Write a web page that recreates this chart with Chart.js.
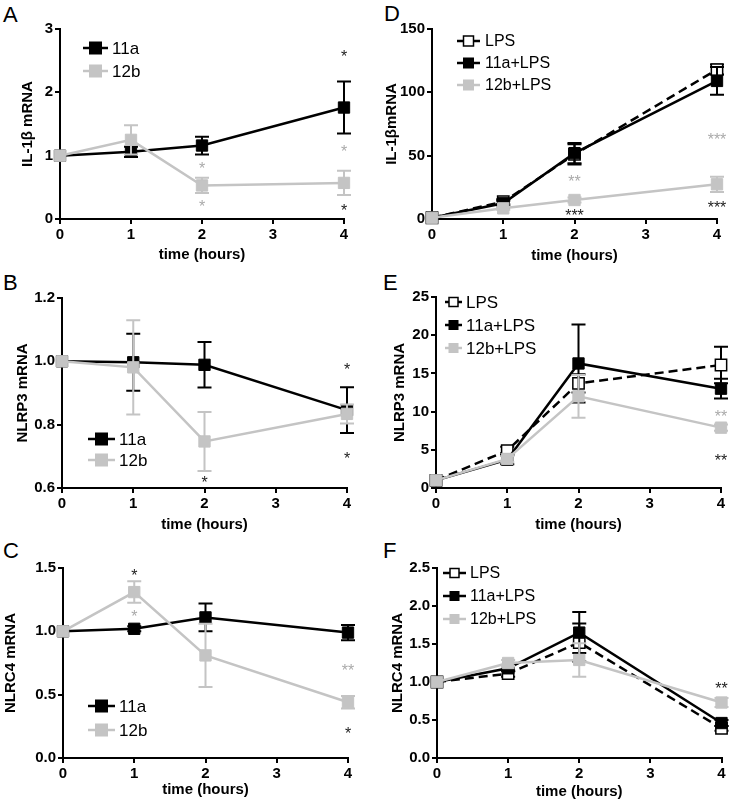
<!DOCTYPE html>
<html>
<head>
<meta charset="utf-8">
<script src="https://cdn.jsdelivr.net/npm/chart.js@4.4.1/dist/chart.umd.min.js"></script>
<style>
html, body { margin: 0; padding: 0; background: #fff; }
body { width: 731px; height: 804px; position: relative; overflow: hidden; font-family: Arial, "Liberation Sans", sans-serif; }
canvas { position: absolute; }
.letter { position: absolute; font-size: 22px; line-height: 22px; color: #000; }
</style>
</head>
<body>
<div class="letter" style="left:3px;top:4px">A</div>
<div class="letter" style="left:3px;top:272px">B</div>
<div class="letter" style="left:3px;top:540px">C</div>
<div class="letter" style="left:384px;top:3px">D</div>
<div class="letter" style="left:383px;top:272px">E</div>
<div class="letter" style="left:383px;top:540px">F</div>

<canvas id="cA" width="365" height="268" style="left:0;top:0"></canvas>
<canvas id="cB" width="365" height="270" style="left:0;top:268px"></canvas>
<canvas id="cC" width="365" height="266" style="left:0;top:538px"></canvas>
<canvas id="cD" width="366" height="268" style="left:365px;top:0"></canvas>
<canvas id="cE" width="366" height="270" style="left:365px;top:268px"></canvas>
<canvas id="cF" width="366" height="266" style="left:365px;top:538px"></canvas>

<script>
// time points (hours)
const hours = [0, 1, 2, 4];

// A: IL-1b mRNA
const il1b_11a = [1.0, 1.06, 1.16, 1.76];
const il1b_11a_err = [0, 0.08, 0.14, 0.41];
const il1b_12b = [1.0, 1.25, 0.53, 0.57];
const il1b_12b_err = [0, 0.23, 0.12, 0.19];

// B: NLRP3 mRNA
const nlrp3_11a = [1.0, 0.997, 0.989, 0.846];
const nlrp3_11a_err = [0, 0.09, 0.072, 0.072];
const nlrp3_12b = [1.0, 0.981, 0.747, 0.834];
const nlrp3_12b_err = [0, 0.149, 0.093, 0.03];

// C: NLRC4 mRNA
const nlrc4_11a = [1.0, 1.02, 1.11, 0.99];
const nlrc4_11a_err = [0, 0.02, 0.11, 0.06];
const nlrc4_12b = [1.0, 1.31, 0.81, 0.44];
const nlrc4_12b_err = [0, 0.085, 0.25, 0.05];

// D: IL-1b mRNA with LPS
const il1b_lps = [1, 13.6, 51, 118];
const il1b_lps_err = [0, 2, 8, 4];
const il1b_11aLps = [1, 12.4, 52, 109];
const il1b_11aLps_err = [0, 2, 8, 11];
const il1b_12bLps = [1, 8.4, 15, 27.4];
const il1b_12bLps_err = [0, 1, 2, 6];

// E: NLRP3 mRNA with LPS
const nlrp3_lps = [1, 4.9, 13.7, 16.1];
const nlrp3_lps_err = [0, 0.5, 1.2, 2.4];
const nlrp3_11aLps = [1, 3.7, 16.3, 13.0];
const nlrp3_11aLps_err = [0, 0.6, 5.1, 1.3];
const nlrp3_12bLps = [1, 3.8, 12.0, 7.9];
const nlrp3_12bLps_err = [0, 0.4, 2.8, 0.4];

// F: NLRC4 mRNA with LPS
const nlrc4_lps = [1, 1.11, 1.52, 0.39];
const nlrc4_lps_err = [0, 0.04, 0.25, 0.03];
const nlrc4_11aLps = [1, 1.18, 1.65, 0.46];
const nlrc4_11aLps_err = [0, 0.04, 0.27, 0.04];
const nlrc4_12bLps = [1, 1.25, 1.29, 0.73];
const nlrc4_12bLps_err = [0, 0.04, 0.22, 0.06];

// significance marks: [hour, value, text, black?]
const starsA = [[4, 2.62, '*', 1], [4, 1.13, '*', 0], [2, 0.86, '*', 0], [2, 0.26, '*', 0], [4, 0.19, '*', 1]];
const starsB = [[4, 0.985, '*', 1], [4, 0.704, '*', 1], [2, 0.63, '*', 1]];
const starsC = [[1, 1.47, '*', 1], [1, 1.15, '*', 0], [4, 0.72, '**', 0], [4, 0.22, '*', 1]];
const starsD = [[4, 65.5, '***', 0], [2, 32.6, '**', 0], [2, 6, '***', 1], [4, 12.4, '***', 1]];
const starsE = [[4, 9.9, '**', 0], [4, 4.1, '**', 1]];
const starsF = [[4, 0.97, '**', 1]];

const FONT = 'Arial, "Liberation Sans", sans-serif';
const BLACK = '#000';
const GRAY = '#c4c4c4';
Chart.defaults.font.family = FONT;
Chart.defaults.color = BLACK;

const pts = vals => vals.map((v, i) => ({ x: hours[i], y: v }));

function series(label, vals, err, kind) {
    const ds = {
        label: label,
        data: pts(vals),
        err: err,
        tension: 0,
        clip: false,
        borderWidth: 2.5,
        pointStyle: 'rect',
        pointRadius: 8,
        pointHoverRadius: 8,
        pointBorderWidth: 1
    };
    if (kind === 'lps') {
        Object.assign(ds, { borderColor: BLACK, borderDash: [9, 5], pointBackgroundColor: '#fff',
            pointBorderColor: BLACK, pointBorderWidth: 1.5, order: 2 });
    } else if (kind === 'black') {
        Object.assign(ds, { borderColor: BLACK, pointBackgroundColor: BLACK, pointBorderColor: BLACK, order: 1 });
    } else {
        Object.assign(ds, { borderColor: GRAY, pointBackgroundColor: GRAY, pointBorderColor: GRAY, order: 0 });
    }
    return ds;
}

const errorBars = {
    id: 'errorBars',
    beforeDatasetDraw(chart, args) {
        const ds = chart.data.datasets[args.index];
        if (!ds.err) return;
        const xs = chart.scales.x, ys = chart.scales.y;
        const ctx = chart.ctx;
        ctx.save();
        ctx.strokeStyle = ds.borderColor;
        ctx.lineWidth = 2;
        ctx.setLineDash([]);
        ds.data.forEach((p, i) => {
            const e = ds.err[i];
            if (!e) return;
            const px = xs.getPixelForValue(p.x);
            const top = ys.getPixelForValue(p.y + e);
            const bot = ys.getPixelForValue(p.y - e);
            ctx.beginPath();
            ctx.moveTo(px, top); ctx.lineTo(px, bot);
            ctx.moveTo(px - 7, top); ctx.lineTo(px + 7, top);
            ctx.moveTo(px - 7, bot); ctx.lineTo(px + 7, bot);
            ctx.stroke();
        });
        ctx.restore();
    }
};

const stars = {
    id: 'stars',
    afterDatasetsDraw(chart, args, opts) {
        if (!opts.marks) return;
        const ctx = chart.ctx;
        ctx.save();
        ctx.font = '16px ' + FONT;
        ctx.textAlign = 'center';
        ctx.textBaseline = 'alphabetic';
        opts.marks.forEach(m => {
            ctx.fillStyle = m[3] ? '#222' : '#aaa';
            const px = chart.scales.x.getPixelForValue(m[0]);
            const py = chart.scales.y.getPixelForValue(m[1]);
            ctx.fillText(m[2], px, py + 9.3);
        });
        ctx.restore();
    }
};

const boxLegend = {
    id: 'boxLegend',
    afterDraw(chart, args, opts) {
        const ctx = chart.ctx;
        const a = chart.chartArea;
        ctx.save();
        chart.data.datasets.forEach((ds, i) => {
            const y = a.top + opts.y + i * opts.gap;
            const x0 = a.left + opts.x0, x1 = a.left + opts.x1;
            const xm = (x0 + x1) / 2;
            ctx.strokeStyle = ds.borderColor;
            ctx.lineWidth = 2.5;
            ctx.setLineDash([]);
            ctx.beginPath();
            ctx.moveTo(x0, y); ctx.lineTo(x1, y);
            ctx.stroke();
            const s = opts.box;
            ctx.fillStyle = ds.pointBackgroundColor;
            ctx.fillRect(xm - s / 2, y - s / 2, s, s);
            ctx.strokeStyle = ds.pointBorderColor;
            ctx.lineWidth = ds.pointBorderWidth;
            ctx.strokeRect(xm - s / 2, y - s / 2, s, s);
            ctx.fillStyle = BLACK;
            ctx.font = opts.size + 'px ' + FONT;
            ctx.textAlign = 'left';
            ctx.textBaseline = 'middle';
            ctx.fillText(ds.label, x1 + opts.tx, y + 1);
        });
        ctx.restore();
    }
};

function panel(id, p) {
    const tickFont = { size: 15, weight: 'bold' };
    const titleFont = { size: 15, weight: 'bold' };
    return new Chart(document.getElementById(id), {
        type: 'line',
        data: { datasets: p.datasets },
        options: {
            responsive: false,
            animation: false,
            events: [],
            layout: { padding: { left: 0, top: p.pt, right: p.pr, bottom: 0 } },
            plugins: {
                legend: { display: false },
                tooltip: { enabled: false },
                stars: { marks: p.stars },
                boxLegend: p.legend
            },
            scales: {
                x: {
                    type: 'linear', min: 0, max: 4,
                    ticks: { stepSize: 1, font: tickFont, color: BLACK, padding: 2 },
                    grid: { drawOnChartArea: false, color: BLACK, lineWidth: 2, tickLength: 5 },
                    border: { color: BLACK, width: 2 },
                    title: { display: true, text: 'time (hours)', font: titleFont, color: BLACK,
                        padding: { top: 0, bottom: p.xtp } },
                    afterFit(s) { s.height = p.xh; }
                },
                y: {
                    min: p.ymin, max: p.ymax,
                    ticks: { stepSize: p.step, font: tickFont, color: BLACK, padding: 2,
                        callback: v => v.toFixed(p.dec) },
                    grid: { drawOnChartArea: false, color: BLACK, lineWidth: 2, tickLength: 5 },
                    border: { color: BLACK, width: 2 },
                    title: { display: true, text: p.ytitle, font: titleFont, color: BLACK,
                        padding: { top: p.ytp, bottom: 0 } },
                    afterFit(s) { s.width = p.yw; }
                }
            }
        },
        plugins: [errorBars, stars, boxLegend]
    });
}

panel('cA', {
    datasets: [series('11a', il1b_11a, il1b_11a_err, 'black'), series('12b', il1b_12b, il1b_12b_err, 'gray')],
    ymin: 0, ymax: 3, step: 1, dec: 0, ytitle: 'IL-1\u03b2 mRNA', stars: starsA,
    yw: 60, pr: 21, pt: 29, xh: 49, ytp: 19, xtp: 4,
    legend: { x0: 23, x1: 48, y: 19, gap: 23, box: 12, tx: 4, size: 17 }
});
panel('cB', {
    datasets: [series('11a', nlrp3_11a, nlrp3_11a_err, 'black'), series('12b', nlrp3_12b, nlrp3_12b_err, 'gray')],
    ymin: 0.6, ymax: 1.2, step: 0.2, dec: 1, ytitle: 'NLRP3 mRNA', stars: starsB,
    yw: 62, pr: 18, pt: 30, xh: 50, ytp: 14, xtp: 4,
    legend: { x0: 26, x1: 53, y: 141, gap: 21, box: 12, tx: 4, size: 17 }
});
panel('cC', {
    datasets: [series('11a', nlrc4_11a, nlrc4_11a_err, 'black'), series('12b', nlrc4_12b, nlrc4_12b_err, 'gray')],
    ymin: 0, ymax: 1.5, step: 0.5, dec: 1, ytitle: 'NLRC4 mRNA', stars: starsC,
    yw: 63, pr: 17, pt: 30, xh: 46, ytp: 2, xtp: 5,
    legend: { x0: 25, x1: 52, y: 138, gap: 24, box: 12, tx: 4, size: 17 }
});
panel('cD', {
    datasets: [series('LPS', il1b_lps, il1b_lps_err, 'lps'), series('11a+LPS', il1b_11aLps, il1b_11aLps_err, 'black'),
        series('12b+LPS', il1b_12bLps, il1b_12bLps_err, 'gray')],
    ymin: 0, ymax: 150, step: 50, dec: 0, ytitle: 'IL-1\u03b2mRNA', stars: starsD,
    yw: 67, pr: 14, pt: 29, xh: 49, ytp: 18, xtp: 3,
    legend: { x0: 25, x1: 48, y: 12, gap: 22, box: 10, tx: 5, size: 16 }
});
panel('cE', {
    datasets: [series('LPS', nlrp3_lps, nlrp3_lps_err, 'lps'), series('11a+LPS', nlrp3_11aLps, nlrp3_11aLps_err, 'black'),
        series('12b+LPS', nlrp3_12bLps, nlrp3_12bLps_err, 'gray')],
    ymin: 0, ymax: 25, step: 5, dec: 0, ytitle: 'NLRP3 mRNA', stars: starsE,
    yw: 71, pr: 10, pt: 29, xh: 50, ytp: 26, xtp: 4,
    legend: { x0: 9, x1: 26, y: 5, gap: 23, box: 9, tx: 4, size: 17 }
});
panel('cF', {
    datasets: [series('LPS', nlrc4_lps, nlrc4_lps_err, 'lps'), series('11a+LPS', nlrc4_11aLps, nlrc4_11aLps_err, 'black'),
        series('12b+LPS', nlrc4_12bLps, nlrc4_12bLps_err, 'gray')],
    ymin: 0, ymax: 2.5, step: 0.5, dec: 1, ytitle: 'NLRC4 mRNA', stars: starsF,
    yw: 72, pr: 9, pt: 30, xh: 46, ytp: 24, xtp: 3,
    legend: { x0: 6, x1: 29, y: 5, gap: 23, box: 9, tx: 4, size: 16 }
});
</script>
</body>
</html>
